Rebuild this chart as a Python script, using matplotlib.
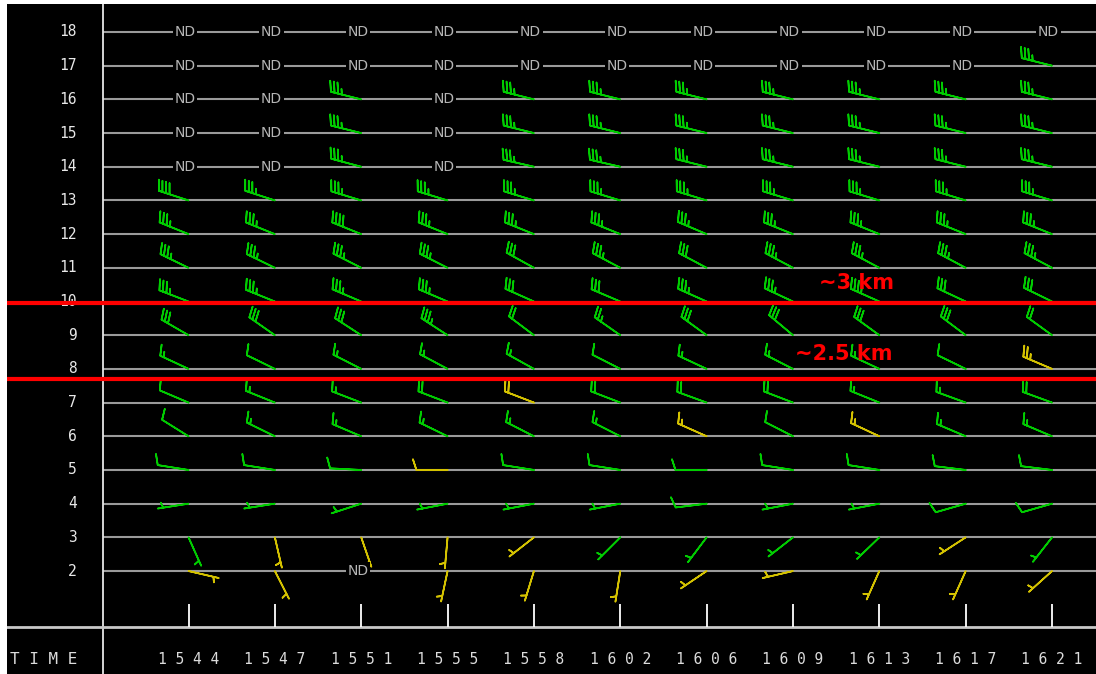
import numpy as np
import matplotlib.pyplot as plt
import matplotlib.transforms as mtransforms

# VAD wind profile: times across, heights (kft) up
times = ['1544', '1547', '1551', '1555', '1558', '1602', '1606', '1609', '1613', '1617', '1621']
levels = [2, 3, 4, 5, 6, 7, 8, 9, 10, 11, 12, 13, 14, 15, 16, 17, 18]

# wind direction (deg, from), one row per level, None = ND
wind_dir = [
    [103, 153, None, 192, 197, 189, 236, 257, 204, 204, 228],   # 2
    [156, 167, 161, 185, 232, 225, 217, 232, 226, 237, 218],    # 3
    [261, 261, 252, 259, 259, 259, 263, 259, 259, 254, 254],    # 4
    [279, 279, 273, 270, 279, 279, 270, 279, 279, 277, 277],    # 5
    [302, 296, 293, 296, 297, 297, 294, 297, 295, 293, 293],    # 6
    [293, 292, 291, 291, 291, 291, 290, 291, 292, 290, 290],    # 7
    [295, 296, 297, 298, 299, 297, 295, 297, 295, 296, 293],    # 8
    [300, 305, 303, 303, 307, 305, 306, 310, 306, 307, 306],    # 9
    [291, 292, 293, 293, 294, 293, 294, 295, 294, 295, 296],    # 10
    [296, 296, 297, 297, 299, 298, 298, 298, 298, 298, 298],    # 11
    [292, 292, 292, 292, 292, 292, 293, 292, 292, 292, 292],    # 12
    [288, 288, 287, 287, 287, 287, 287, 287, 287, 287, 287],    # 13
    [None, None, 285, None, 283, 283, 284, 284, 284, 284, 284], # 14
    [None, None, 284, None, 284, 284, 284, 284, 284, 284, 284], # 15
    [None, None, 284, None, 284, 284, 284, 284, 284, 284, 284], # 16
    [None, None, None, None, None, None, None, None, None, None, 284],  # 17
    [None] * 11,                                                # 18
]

# wind speed (kt)
wind_spd = [
    [5, 5, None, 5, 5, 5, 5, 5, 5, 5, 5],
    [5, 5, 5, 5, 5, 5, 5, 5, 5, 5, 5],
    [5, 5, 5, 5, 5, 5, 10, 5, 5, 10, 10],
    [10, 10, 10, 10, 10, 10, 10, 10, 10, 10, 10],
    [10, 15, 15, 15, 15, 15, 15, 10, 15, 15, 15],
    [10, 15, 15, 20, 20, 20, 20, 20, 15, 15, 20],
    [15, 10, 15, 15, 15, 10, 15, 15, 15, 10, 25],
    [30, 30, 30, 35, 20, 25, 30, 30, 30, 30, 20],
    [35, 35, 35, 35, 30, 30, 35, 35, 35, 30, 30],
    [35, 35, 35, 35, 30, 35, 30, 35, 35, 35, 35],
    [35, 35, 40, 35, 35, 35, 35, 35, 35, 35, 35],
    [40, 35, 35, 35, 35, 35, 35, 35, 35, 35, 35],
    [None, None, 35, None, 35, 35, 35, 35, 35, 35, 35],
    [None, None, 35, None, 35, 35, 35, 35, 35, 35, 35],
    [None, None, 35, None, 35, 35, 35, 35, 35, 35, 35],
    [None, None, None, None, None, None, None, None, None, None, 35],
    [None] * 11,
]

# RMS quality code per level: g = green, y = yellow
quality = [
    'yyyyyyyyyyy',  # 2
    'gyyyyggggyg',  # 3
    'ggggggggggg',  # 4
    'gggyggggggg',  # 5
    'ggggggygygg',  # 6
    'ggggygggggg',  # 7
    'ggggggggggy',  # 8
    'ggggggggggg',  # 9
    'ggggggggggg',  # 10
    'ggggggggggg',  # 11
    'ggggggggggg',  # 12
    'ggggggggggg',  # 13
    'ggggggggggg',  # 14
    'ggggggggggg',  # 15
    'ggggggggggg',  # 16
    'ggggggggggg',  # 17
    'ggggggggggg',  # 18
]

red_heights = [9.96, 7.70]
red_labels = ['~3 km', '~2.5 km']

colors = {'g': '#00cc00', 'y': '#d4c200'}

fig = plt.figure(figsize=(10.96, 6.74), dpi=100, facecolor='white')
ax = fig.add_axes([7 / 1096, 0, 1 - 7 / 1096, 1 - 4 / 674])
ax.set_facecolor('black')
ax.set_xlim(-2.102, 10.509)
ax.set_ylim(-1.056, 18.831)
ax.set_xticks([])
ax.set_yticks([])
for s in ax.spines.values():
    s.set_visible(False)

cols = np.arange(len(times))
sep_x = -0.99
axis_y = 0.339

# grid of height lines and left separator
ax.hlines(levels, sep_x, 10.509, color='#9a9a9a', lw=1.5, zorder=1)
ax.axvline(sep_x, color='#e6e6e6', lw=1.3, zorder=2)
ax.axhline(axis_y, color='#c8c8c8', lw=2, zorder=2)
ax.vlines(cols, axis_y, 1.022, color='white', lw=1.3, zorder=2)

trans = mtransforms.blended_transform_factory(ax.transAxes, ax.transData)
for lv in levels:
    ax.text(0.0643, lv, str(lv), transform=trans, ha='right', va='center',
            family='DejaVu Sans Mono', fontsize=10.5, color='#e8e8e8')

for i, t in enumerate(times):
    ax.text(i, -0.611, ' '.join(t), ha='center', va='center',
            family='DejaVu Sans Mono', fontsize=10.5, color='#dcdcdc')
ax.text(0.003, -0.611, 'T I M E', transform=trans, ha='left', va='center',
        family='DejaVu Sans Mono', fontsize=11.5, color='#dcdcdc')

# barbs
wd = np.array(wind_dir, dtype=float)
ws = np.array(wind_spd, dtype=float)
qc = np.array([list(q) for q in quality])
xx, yy = np.meshgrid(cols, levels)
u = -ws * np.sin(np.deg2rad(wd))
v = -ws * np.cos(np.deg2rad(wd))
for code, c in colors.items():
    m = (qc == code) & ~np.isnan(wd)
    ax.barbs(xx[m], yy[m], u[m], v[m], length=6.7, pivot='tip',
             barbcolor=c, flagcolor=c, linewidth=1.2,
             sizes=dict(spacing=0.12, height=0.34, width=0.22), zorder=3)

# ND markers
nd = np.isnan(wd)
for x, y in zip(xx[nd], yy[nd]):
    ax.text(x - 0.04, y, 'ND', ha='center', va='center', fontsize=10,
            color='#b4b4b4', bbox=dict(facecolor='black', edgecolor='none', pad=1.2),
            zorder=4)

# annotation lines
for h in red_heights:
    ax.axhline(h, color='#ff0000', lw=3, zorder=5)
ax.text(7.74, 10.55, red_labels[0], color='#ff0000', fontsize=15, fontweight='bold',
        ha='center', va='center', zorder=6)
ax.text(7.59, 8.44, red_labels[1], color='#ff0000', fontsize=15, fontweight='bold',
        ha='center', va='center', zorder=6)

fig.savefig('out.png', dpi=100, facecolor=fig.get_facecolor())
